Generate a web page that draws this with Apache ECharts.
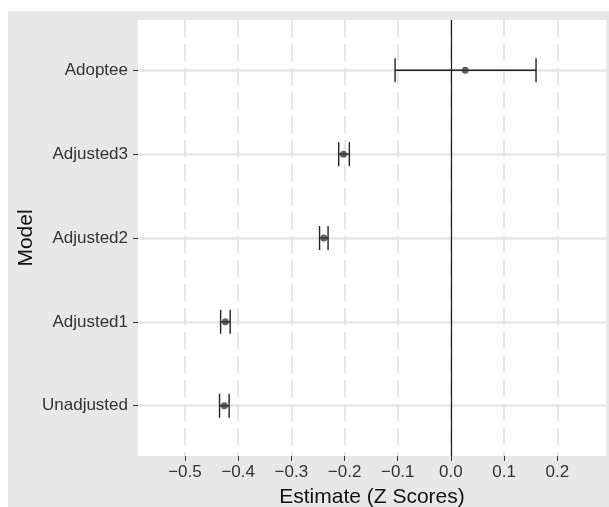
<!DOCTYPE html>
<html>
<head>
<meta charset="utf-8">
<title>Model estimates</title>
<script src="https://cdn.jsdelivr.net/npm/echarts@6/dist/echarts.min.js"></script>
<style>
  html, body { margin: 0; padding: 0; background: #fff; }
  #main { width: 609px; height: 507px; }
</style>
</head>
<body>
<div id="main"></div>
<script>
// models from bottom to top
var models = ['Unadjusted', 'Adjusted1', 'Adjusted2', 'Adjusted3', 'Adoptee'];
var estimates = [-0.426, -0.424, -0.239, -0.202, 0.027];
var lower = [-0.435, -0.433, -0.247, -0.211, -0.105];
var upper = [-0.417, -0.415, -0.231, -0.191, 0.160];
var xTicks = [-0.5, -0.4, -0.3, -0.2, -0.1, 0.0, 0.1, 0.2];
var yTicks = [1, 2, 3, 4, 5];

var barData = [], pointData = [];
for (var i = 0; i < models.length; i++) {
  barData.push([lower[i], upper[i], i + 1]);
  pointData.push([estimates[i], i + 1]);
}

function fmtX(v) {
  var s = v.toFixed(1);
  return s.replace('-', '\u2212');
}

var chart = echarts.init(document.getElementById('main'));
var option = {
  animation: false,
  backgroundColor: '#fff',
  textStyle: { fontFamily: 'Liberation Sans, Arial, sans-serif' },
  graphic: [{
    type: 'rect', z: -10, silent: true,
    shape: { x: 8, y: 11, width: 601, height: 496 },
    style: { fill: '#e8e8e8' }
  }],
  grid: {
    left: 138, top: 20, width: 468, height: 436,
    outerBoundsMode: 'none', containLabel: false,
    show: true, backgroundColor: '#fff', borderWidth: 0
  },
  xAxis: {
    type: 'value', min: -0.5883, max: 0.2915,
    name: 'Estimate (Z Scores)', nameLocation: 'middle', nameGap: 31,
    nameMoveOverlap: false,
    nameTextStyle: { fontSize: 21, color: '#111' },
    axisLine: { show: false, onZero: false },
    axisTick: { show: true, length: 5, customValues: xTicks, lineStyle: { color: '#333', width: 1 } },
    axisLabel: { customValues: xTicks, fontSize: 17, color: '#333', margin: 8, formatter: fmtX },
    splitLine: { show: true, lineStyle: { color: '#e6e6e6', width: 2, type: [17, 7] } }
  },
  yAxis: {
    type: 'value', min: 0.4, max: 5.6,
    name: 'Model', nameLocation: 'middle', nameGap: 101,
    nameMoveOverlap: false,
    nameTextStyle: { fontSize: 21, color: '#111' },
    axisLine: { show: false, onZero: false },
    axisTick: { show: true, length: 5, customValues: yTicks, lineStyle: { color: '#333', width: 1 } },
    axisLabel: {
      customValues: yTicks, fontSize: 17, color: '#333', margin: 10,
      formatter: function (v) { return models[Math.round(v) - 1] || ''; }
    },
    splitLine: { show: true, lineStyle: { color: '#e6e6e6', width: 2.5 } }
  },
  series: [{
    type: 'custom',
    data: barData,
    z: 3,
    renderItem: function (params, api) {
      var a = api.coord([api.value(0), api.value(2)]);
      var b = api.coord([api.value(1), api.value(2)]);
      var h = 12;
      var st = { stroke: '#222', lineWidth: 1.4 };
      return {
        type: 'group',
        children: [
          { type: 'line', shape: { x1: a[0], y1: a[1], x2: b[0], y2: b[1] }, style: st },
          { type: 'line', shape: { x1: a[0], y1: a[1] - h, x2: a[0], y2: a[1] + h }, style: st },
          { type: 'line', shape: { x1: b[0], y1: b[1] - h, x2: b[0], y2: b[1] + h }, style: st }
        ]
      };
    },
    markLine: {
      silent: true, symbol: 'none', label: { show: false },
      lineStyle: { color: '#1a1a1a', width: 1.2, type: 'solid' },
      data: [{ xAxis: 0 }]
    }
  }, {
    type: 'scatter',
    data: pointData,
    symbol: 'circle',
    symbolSize: 7,
    z: 4,
    itemStyle: { color: '#3a3a3a' }
  }]
};
chart.setOption(option);
</script>
</body>
</html>
